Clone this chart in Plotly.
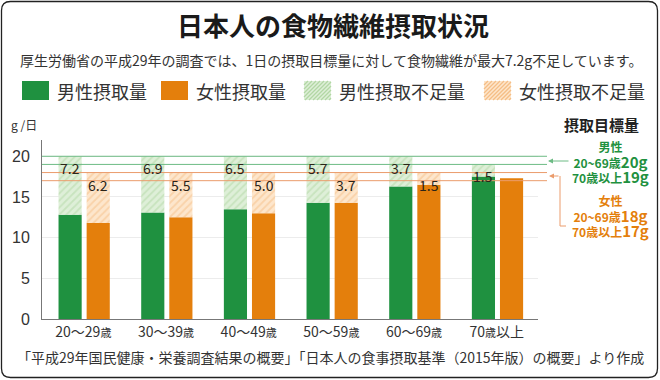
import plotly.graph_objects as go

# ---------------- data ----------------
categories = ["20〜29歳", "30〜39歳", "40〜49歳", "50〜59歳", "60〜69歳", "70歳以上"]
tick_labels = ["20〜29<span style='font-size:11px'>歳</span>",
               "30〜39<span style='font-size:11px'>歳</span>",
               "40〜49<span style='font-size:11px'>歳</span>",
               "50〜59<span style='font-size:11px'>歳</span>",
               "60〜69<span style='font-size:11px'>歳</span>",
               "70<span style='font-size:11px'>歳</span>以上"]
male_intake = [12.8, 13.1, 13.5, 14.3, 16.3, 17.5]
male_short = [7.2, 6.9, 6.5, 5.7, 3.7, 1.5]
female_intake = [11.8, 12.5, 13.0, 14.3, 16.5, 17.3]
female_short = [6.2, 5.5, 5.0, 3.7, 1.5, 0.0]
male_targets = [20, 19]
female_targets = [18, 17]
y_ticks = [0, 5, 10, 15, 20]

# ---------------- style ----------------
FONT = "Noto Sans CJK JP"
GREEN = "#1f9140"
ORANGE = "#e47f0c"
GREEN_BG = "#deefd8"
GREEN_FG = "#b2d7a4"
ORANGE_BG = "#fde6cc"
ORANGE_FG = "#f5be86"
GREEN_LINE = "#6cbb84"
ORANGE_LINE = "#eb9c6c"
TXT = "#333333"

W, H = 660, 380
L, R, T, B = 42, 122, 140, 61
PW, PH = W - L - R, H - T - B


def px(x):
    return (x - L) / PW


def py(y):
    return (H - B - y) / PH


BW = 0.28
M_OFF = -0.30
F_OFF = 0.04

fig = go.Figure()
fig.add_trace(go.Bar(x=categories, y=male_intake, width=BW, offset=M_OFF,
                     marker=dict(color=GREEN, line_width=0), name="男性摂取量"))
fig.add_trace(go.Bar(x=categories, y=male_short, base=male_intake, width=BW, offset=M_OFF,
                     marker=dict(color=GREEN_BG, line_width=0,
                                 pattern=dict(shape="/", bgcolor=GREEN_BG, fgcolor=GREEN_FG,
                                              size=5, solidity=0.35)),
                     name="男性摂取不足量"))
fig.add_trace(go.Bar(x=categories, y=female_intake, width=BW, offset=F_OFF,
                     marker=dict(color=ORANGE, line_width=0), name="女性摂取量"))
fig.add_trace(go.Bar(x=categories, y=female_short, base=female_intake, width=BW, offset=F_OFF,
                     marker=dict(color=ORANGE_BG, line_width=0,
                                 pattern=dict(shape="/", bgcolor=ORANGE_BG, fgcolor=ORANGE_FG,
                                              size=5, solidity=0.35)),
                     name="女性摂取不足量"))

annotations = []
shapes = []

# value labels on shortage bars
for i, c in enumerate(categories):
    for inc, sh, off in ((male_intake, male_short, M_OFF), (female_intake, female_short, F_OFF)):
        if sh[i] > 0:
            annotations.append(dict(
                x=c, y=inc[i] + sh[i], xref="x", yref="y", text=f"{sh[i]:.1f}",
                showarrow=False, yanchor="top", yshift=0,
                xshift=(off + BW / 2) * PW / len(categories),
                font=dict(family=FONT, size=14, color="#2b2418")))

# target lines
for v in male_targets:
    shapes.append(dict(type="line", xref="paper", yref="y", x0=0, x1=px(547), y0=v, y1=v,
                       line=dict(color=GREEN_LINE, width=1), layer="above"))
for v in female_targets:
    shapes.append(dict(type="line", xref="paper", yref="y", x0=0, x1=px(547), y0=v, y1=v,
                       line=dict(color=ORANGE_LINE, width=1), layer="above"))

# arrows to target labels
annotations.append(dict(xref="paper", yref="paper", x=px(548), y=py(161), ax=22, ay=0,
                        text="", showarrow=True, arrowhead=2, arrowsize=1, arrowwidth=1,
                        arrowcolor=GREEN_LINE))
annotations.append(dict(xref="paper", yref="paper", x=px(549), y=py(176), ax=11, ay=0,
                        text="", showarrow=True, arrowhead=2, arrowsize=1, arrowwidth=1,
                        arrowcolor=ORANGE_LINE))
shapes.append(dict(type="path", xref="paper", yref="paper",
                   path=f"M {px(560)} {py(176)} L {px(560)} {py(226)} L {px(566)} {py(226)}",
                   line=dict(color=ORANGE_LINE, width=1)))


def rtext(x, y, text, size, color, bold=True):
    annotations.append(dict(xref="paper", yref="paper", x=px(x), y=py(y),
                            text=f"<b>{text}</b>" if bold else text, showarrow=False,
                            xanchor="center", yanchor="middle", align="center",
                            font=dict(family=FONT, size=size, color=color)))


BIG = "<span style='font-size:15px'>"
rtext(601, 124, "摂取目標量", 15, "#222")
rtext(610, 162, f"男性<br>20~69歳{BIG}20g</span><br>70歳以上{BIG}19g</span>", 12, GREEN)
rtext(610, 216, f"女性<br>20~69歳{BIG}18g</span><br>70歳以上{BIG}17g</span>", 12, ORANGE)

# titles
rtext(333, 24, "日本人の食物繊維摂取状況", 26, "#1a1a1a")
rtext(331, 60, "厚生労働省の平成29年の調査では、1日の摂取目標量に対して食物繊維が最大7.2g不足しています。",
      14, TXT, bold=False)
rtext(330, 357, "「平成29年国民健康・栄養調査結果の概要」「日本人の食事摂取基準（2015年版）の概要」より作成",
      14, TXT, bold=False)
annotations.append(dict(xref="paper", yref="paper", x=px(9), y=py(125), text="g /日",
                        showarrow=False, xanchor="left", yanchor="middle",
                        font=dict(family=FONT, size=12, color=TXT)))


# legend (drawn)
def hatch_rect(x0, y0, x1, y1, bg, fg, step=4):
    shapes.append(dict(type="rect", xref="paper", yref="paper", x0=px(x0), x1=px(x1),
                       y0=py(y1), y1=py(y0), fillcolor=bg, line_width=0))
    c = x0 + y0 + step
    while c < x1 + y1:
        xa = max(x0, c - y1)
        xb = min(x1, c - y0)
        if xb > xa:
            shapes.append(dict(type="line", xref="paper", yref="paper",
                               x0=px(xa), y0=py(c - xa), x1=px(xb), y1=py(c - xb),
                               line=dict(color=fg, width=1.3)))
        c += step


LY0, LY1 = 81, 100
legend_items = [
    (22, 49, "男性摂取量", GREEN, None),
    (161, 188, "女性摂取量", ORANGE, None),
    (304, 331, "男性摂取不足量", GREEN_BG, GREEN_FG),
    (484, 511, "女性摂取不足量", ORANGE_BG, ORANGE_FG),
]
for x0, x1, label, col, fg in legend_items:
    if fg is None:
        shapes.append(dict(type="rect", xref="paper", yref="paper", x0=px(x0), x1=px(x1),
                           y0=py(LY1), y1=py(LY0), fillcolor=col, line_width=0))
    else:
        hatch_rect(x0, LY0, x1, LY1, col, fg)
    annotations.append(dict(xref="paper", yref="paper", x=px(x1 + 6), y=py(90.5), text=label,
                            showarrow=False, xanchor="left", yanchor="middle",
                            font=dict(family=FONT, size=18, color=TXT)))


# rounded frame
def frame(x0, y0, x1, y1, r):
    p = (f"M {px(x0 + r)} {py(y0)} L {px(x1 - r)} {py(y0)} "
         f"Q {px(x1)} {py(y0)} {px(x1)} {py(y0 + r)} L {px(x1)} {py(y1 - r)} "
         f"Q {px(x1)} {py(y1)} {px(x1 - r)} {py(y1)} L {px(x0 + r)} {py(y1)} "
         f"Q {px(x0)} {py(y1)} {px(x0)} {py(y1 - r)} L {px(x0)} {py(y0 + r)} "
         f"Q {px(x0)} {py(y0)} {px(x0 + r)} {py(y0)} Z")
    shapes.append(dict(type="path", xref="paper", yref="paper", path=p,
                       line=dict(color="#222", width=1.3)))


frame(1.5, 1.5, 657.5, 377.5, 9)

fig.update_layout(
    width=W, height=H,
    margin=dict(l=L, r=R, t=T, b=B),
    barmode="overlay",
    showlegend=False,
    plot_bgcolor="white", paper_bgcolor="white",
    font=dict(family=FONT, color=TXT),
    annotations=annotations,
    shapes=shapes,
    xaxis=dict(tickvals=categories, ticktext=tick_labels, showline=True, linecolor="#777",
               linewidth=1, ticks="", tickfont=dict(family=FONT, size=14, color=TXT),
               showgrid=False, fixedrange=True),
    yaxis=dict(range=[0, 22], tickvals=y_ticks, showline=True, linecolor="#777", linewidth=1,
               ticks="", showgrid=True, gridcolor="#ececec", gridwidth=1, zeroline=False,
               tickfont=dict(family="Liberation Sans", size=16, color=TXT), ticklabelstandoff=8,
               fixedrange=True),
)

fig.write_html("out.html", config={"displayModeBar": False},
               post_script="document.body.style.margin='0';document.body.style.overflow='hidden';")
